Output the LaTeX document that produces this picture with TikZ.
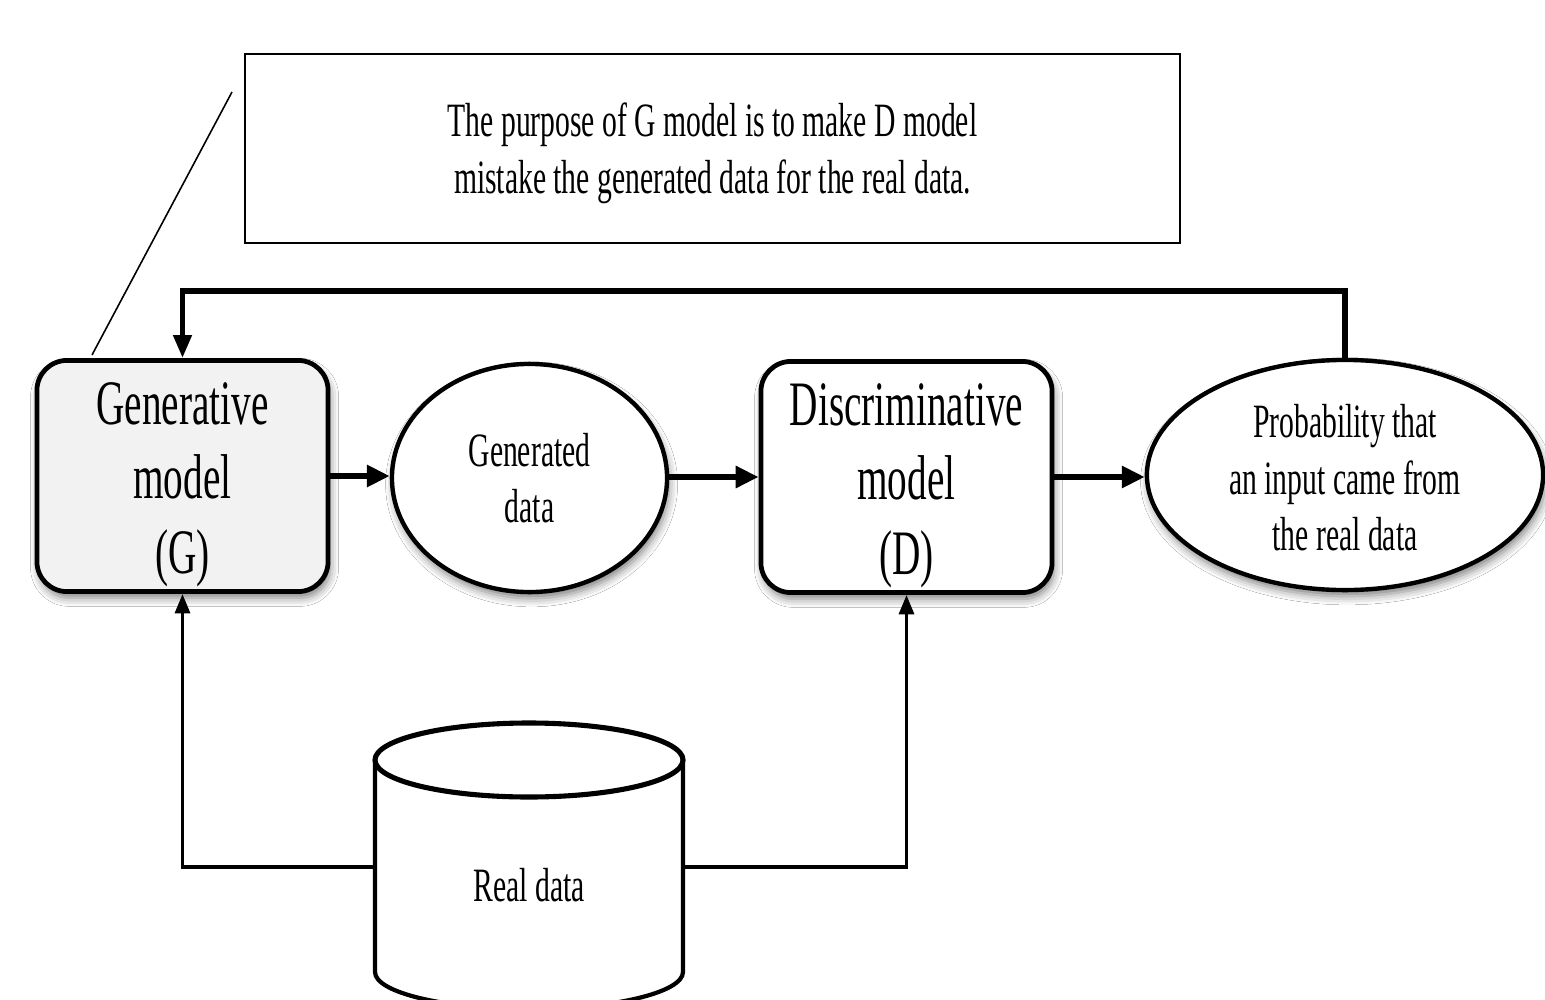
\documentclass[tikz,border=0pt]{standalone}
\usepackage{fontspec}
\setmainfont{Liberation Serif}[FakeStretch=0.62]
\usetikzlibrary{shapes.geometric,arrows.meta,shadows.blur}

% a strut that lowers a centred text block by making its first line taller
\newcommand{\firstline}[1]{\rule{0pt}{#1}}

\tikzset{
  bigtext/.style={font=\fontsize{18}{21.3}\selectfont, align=center},
  smalltext/.style={font=\fontsize{13.6}{16.1}\selectfont, align=center},
  softshadow/.style={blur shadow={shadow xshift=0.6pt, shadow yshift=-1.8pt,
      shadow blur radius=2.4pt, shadow opacity=50}},
  modelbox/.style={bigtext, draw, line width=1.35pt, rounded corners=0.3cm,
      minimum width=2.91cm, minimum height=2.31cm, inner sep=0pt, softshadow},
  dataoval/.style={smalltext, ellipse, draw, line width=1.25pt, fill=white,
      inner sep=0pt, softshadow},
  flow/.style={line width=1.6pt, -{Triangle[length=6.5pt,width=6pt]}},
  feed/.style={line width=1.5pt, -{Triangle[length=6.5pt,width=5pt]}},
  source/.style={line width=1.05pt, -{Triangle[length=5.5pt,width=4.2pt]}},
  note/.style={smalltext, draw, line width=0.55pt, minimum width=9.35cm,
      minimum height=1.89cm, inner sep=0pt},
}

\begin{document}
\begin{tikzpicture}[x=0.01cm, y=-0.01cm]
  \clip (0,0) rectangle (1545,1000);
  \fill[white] (0,0) rectangle (1545,1000);

  % explanatory note and its pointer
  \node[note] (note) at (712.5,148.5)
    {\firstline{12.2pt}The purpose of G model is to make D model\\
     mistake the generated data for the real data.};
  \coordinate (ptrtop) at (232,92);
  \coordinate (ptrbot) at (92,355);
  \draw[line width=0.45pt] (ptrtop) -- (ptrbot);

  % main pipeline
  \node[modelbox, fill={rgb,255:red,242;green,242;blue,242}] (G) at (182.5,476)
    {\firstline{16.9pt}Generative\\model\\(G)};
  \node[dataoval, minimum width=2.75cm, minimum height=2.28cm] (gen) at (529.5,478)
    {Generated\\data};
  \node[modelbox, fill=white] (D) at (906.5,477)
    {\firstline{16.9pt}Discriminative\\model\\(D)};
  \node[dataoval, minimum width=3.96cm, minimum height=2.3cm] (prob) at (1345,475)
    {\firstline{11pt}Probability that\\an input came from\\the real data};

  \draw[flow] (G.east) -- (gen.west |- G.east);
  \draw[flow] (gen.east |- D.west) -- (D.west);
  \draw[flow] (D.east) -- (prob.west |- D.east);

  % feedback from the discriminator output to the generator
  \coordinate (fb) at (0,291);
  \draw[feed] (prob.north) -- (prob.north |- fb) -- (G.north |- fb) -- (G.north);

  % real data store
  \draw[line width=1.2pt, fill=white]
    (375,760) -- (375,972) arc[start angle=180, end angle=360, x radius=154, y radius=-37]
    -- (683,760);
  \draw[line width=1.45pt, fill=white] (529,760) ellipse[x radius=154, y radius=37];
  \node[smalltext] (real) at (529,885) {Real data};
  \coordinate (realL) at (375,867);
  \coordinate (realR) at (683,867);

  \draw[source] (realL) -| (G.south);
  \draw[source] (realR) -| (D.south);
\end{tikzpicture}
\end{document}
